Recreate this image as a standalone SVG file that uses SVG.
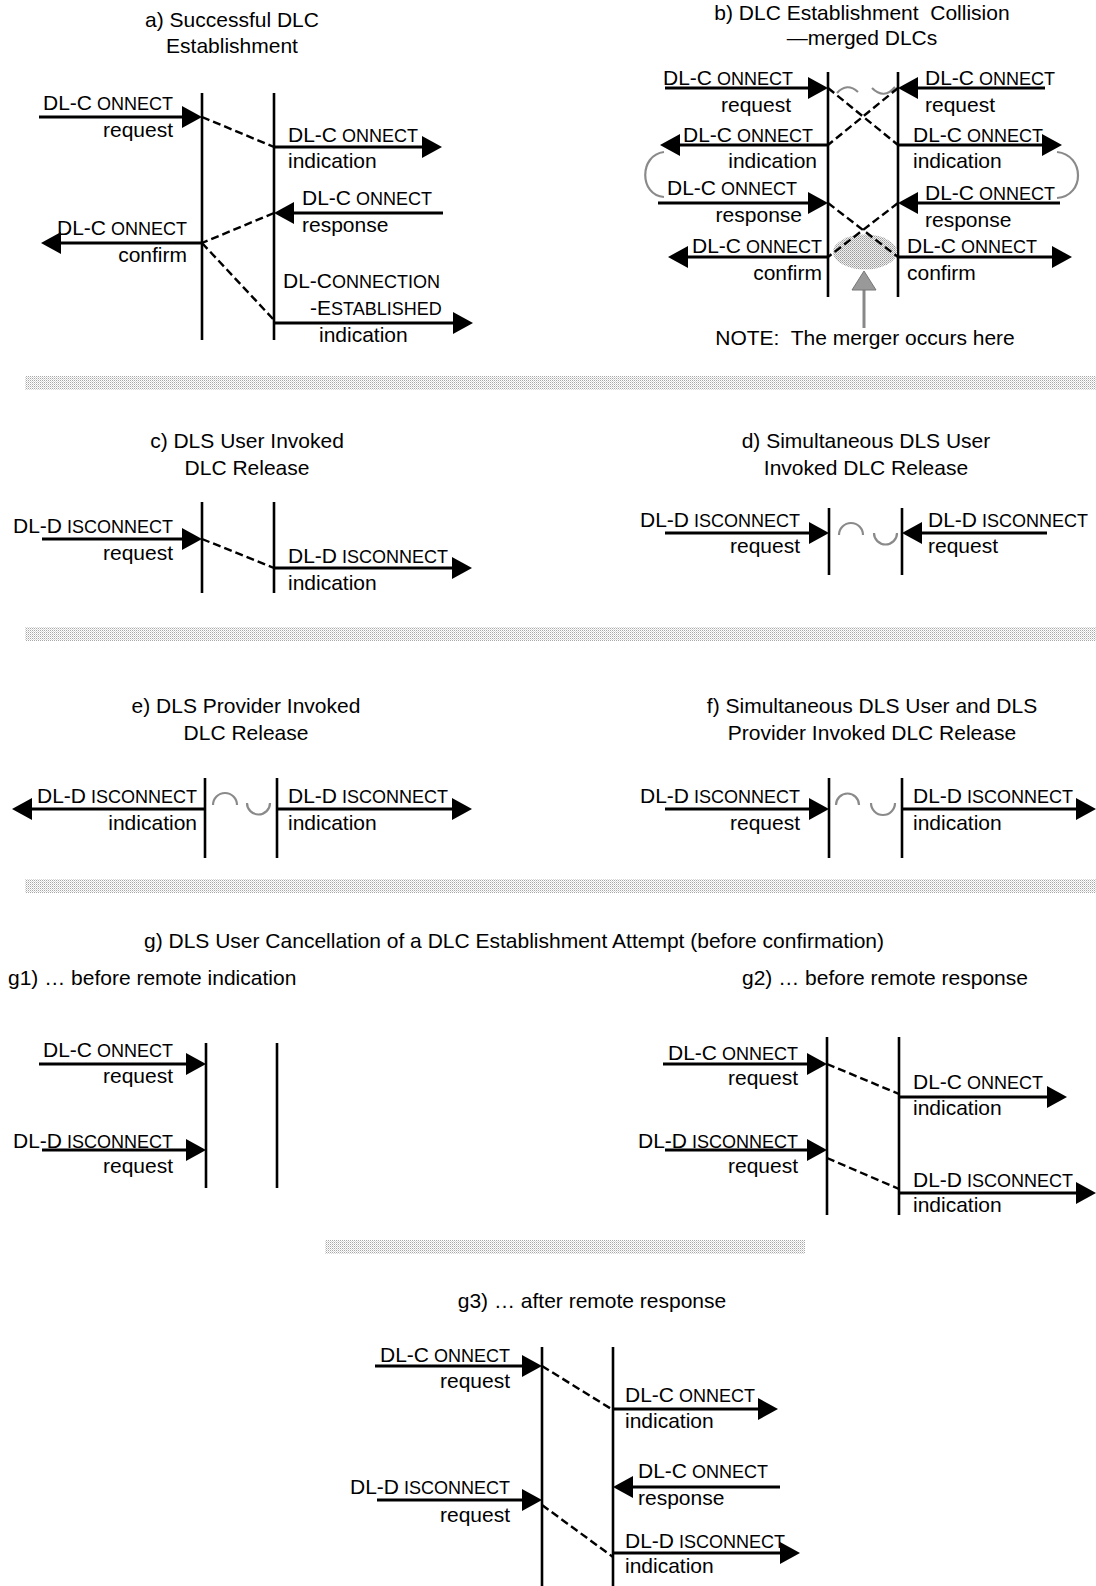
<svg xmlns="http://www.w3.org/2000/svg" width="1096" height="1586" viewBox="0 0 1096 1586">
<style>
text{font-family:"Liberation Sans",Arial,sans-serif;font-size:21px;fill:#000}
.sc{font-size:18px}
.m{text-anchor:middle}
.e{text-anchor:end}
.pre{white-space:pre}
.ll{stroke:#000;stroke-width:2.6;fill:none}
.ar{stroke:#000;stroke-width:3;fill:none;marker-end:url(#ah)}
.ds{stroke:#000;stroke-width:2.4;fill:none;stroke-dasharray:8 4}
.arc{stroke:#8a8a8a;stroke-width:2.2;fill:none}
</style>
<defs>
<marker id="ah" markerUnits="userSpaceOnUse" markerWidth="20" markerHeight="22" viewBox="0 0 20 22" refX="10" refY="11" orient="auto"><path d="M0,0 L20,11 L0,22 z" fill="#000"/></marker>
<pattern id="stip" width="2" height="2" patternUnits="userSpaceOnUse"><rect width="2" height="2" fill="#fff"/><rect width="1" height="1" fill="#a8a8a8"/><rect x="1" y="1" width="1" height="1" fill="#d8d8d8"/></pattern>
<pattern id="stip2" width="2" height="2" patternUnits="userSpaceOnUse"><rect width="2" height="2" fill="#f0f0f0"/><rect width="1" height="1" fill="#9a9a9a"/><rect x="1" y="1" width="1" height="1" fill="#b8b8b8"/></pattern>
</defs>
<rect width="1096" height="1586" fill="#fff"/>

<g id="separators">
<rect x="25" y="376" width="1071" height="14" fill="url(#stip)"/>
<rect x="25" y="627" width="1071" height="14" fill="url(#stip)"/>
<rect x="25" y="879" width="1071" height="14" fill="url(#stip)"/>
<rect x="325" y="1240" width="480" height="14" fill="url(#stip)"/>
</g>

<!-- Panel a -->
<g id="panel-a">
<text class="m" x="232" y="27">a) Successful DLC</text>
<text class="m" x="232" y="53">Establishment</text>
<g id="a-left"><line class="ll" x1="202" y1="93" x2="202" y2="340"/></g>
<g id="a-right"><line class="ll" x1="274" y1="93" x2="274" y2="340"/></g>
<text class="e" x="173" y="110">DL-C<tspan class="sc"> ONNECT</tspan></text>
<text class="e" x="173" y="137">request</text>
<text x="288" y="142">DL-C<tspan class="sc"> ONNECT</tspan></text>
<text x="288" y="168">indication</text>
<text x="302" y="205">DL-C<tspan class="sc"> ONNECT</tspan></text>
<text x="302" y="232">response</text>
<text class="e" x="187" y="235">DL-C<tspan class="sc"> ONNECT</tspan></text>
<text class="e" x="187" y="262">confirm</text>
<text x="283" y="288">DL-C<tspan class="sc">ONNECTION</tspan></text>
<text x="310" y="315">-E<tspan class="sc">STABLISHED</tspan></text>
<text x="319" y="342">indication</text>
</g>

<!-- Panel b -->
<g id="panel-b">
<text class="m pre" x="862" y="20">b) DLC Establishment  Collision</text>
<text class="m" x="862" y="45">—merged DLCs</text>
<g id="b-left"><line class="ll" x1="828" y1="72" x2="828" y2="297"/></g>
<g id="b-right"><line class="ll" x1="898" y1="72" x2="898" y2="297"/></g>
<ellipse cx="865" cy="252" rx="32" ry="17.5" fill="url(#stip2)"/>
<text class="e" x="793" y="85">DL-C<tspan class="sc"> ONNECT</tspan></text>
<text class="e" x="791" y="112">request</text>
<text x="925" y="85">DL-C<tspan class="sc"> ONNECT</tspan></text>
<text x="925" y="112">request</text>
<text class="e" x="813" y="142">DL-C<tspan class="sc"> ONNECT</tspan></text>
<text class="e" x="817" y="168">indication</text>
<text x="913" y="142">DL-C<tspan class="sc"> ONNECT</tspan></text>
<text x="913" y="168">indication</text>
<text x="667" y="195">DL-C<tspan class="sc"> ONNECT</tspan></text>
<text class="e" x="802" y="222">response</text>
<text x="925" y="200">DL-C<tspan class="sc"> ONNECT</tspan></text>
<text x="925" y="227">response</text>
<text class="e" x="822" y="253">DL-C<tspan class="sc"> ONNECT</tspan></text>
<text class="e" x="822" y="280">confirm</text>
<text x="907" y="253">DL-C<tspan class="sc"> ONNECT</tspan></text>
<text x="907" y="280">confirm</text>
<path class="arc" d="M837,93 Q847,82 858,92"/>
<path class="arc" d="M872,88 Q884,100 895,87"/>
<path class="arc" d="M664,152 C639,155 639,195 664,197"/>
<path class="arc" d="M1057,152 C1085,155 1085,196 1057,198"/>
<g id="b-note-arrow">
<line x1="864" y1="288" x2="864" y2="328" stroke="#888" stroke-width="3"/>
<path d="M852,290 L864,271 L876,290 z" fill="#999" stroke="#777" stroke-width="1"/>
</g>
<text class="m pre" x="865" y="345">NOTE:  The merger occurs here</text>
</g>

<!-- Panel c -->
<g id="panel-c">
<text class="m" x="247" y="448">c) DLS User Invoked</text>
<text class="m" x="247" y="475">DLC Release</text>
<g id="c-left"><line class="ll" x1="202" y1="502" x2="202" y2="593"/></g>
<g id="c-right"><line class="ll" x1="274" y1="502" x2="274" y2="593"/></g>
<text class="e" x="173" y="533">DL-D<tspan class="sc"> ISCONNECT</tspan></text>
<text class="e" x="173" y="560">request</text>
<text x="288" y="563">DL-D<tspan class="sc"> ISCONNECT</tspan></text>
<text x="288" y="590">indication</text>
</g>

<!-- Panel d -->
<g id="panel-d">
<text class="m" x="866" y="448">d) Simultaneous DLS User</text>
<text class="m" x="866" y="475">Invoked DLC Release</text>
<g id="d-left"><line class="ll" x1="829" y1="508" x2="829" y2="575"/></g>
<g id="d-right"><line class="ll" x1="902" y1="508" x2="902" y2="575"/></g>
<text class="e" x="800" y="527">DL-D<tspan class="sc"> ISCONNECT</tspan></text>
<text class="e" x="800" y="553">request</text>
<text x="928" y="527">DL-D<tspan class="sc"> ISCONNECT</tspan></text>
<text x="928" y="553">request</text>
<path class="arc" d="M839,535 A12,12 0 0 1 863,535"/>
<path class="arc" d="M874,533 A11.5,11.5 0 0 0 897,533"/>
</g>

<!-- Panel e -->
<g id="panel-e">
<text class="m" x="246" y="713">e) DLS Provider Invoked</text>
<text class="m" x="246" y="740">DLC Release</text>
<g id="e-left"><line class="ll" x1="205" y1="778" x2="205" y2="858"/></g>
<g id="e-right"><line class="ll" x1="277" y1="778" x2="277" y2="858"/></g>
<text class="e" x="197" y="803">DL-D<tspan class="sc"> ISCONNECT</tspan></text>
<text class="e" x="197" y="830">indication</text>
<text x="288" y="803">DL-D<tspan class="sc"> ISCONNECT</tspan></text>
<text x="288" y="830">indication</text>
<path class="arc" d="M213,805 A12,12 0 0 1 237,805"/>
<path class="arc" d="M247,803 A11.5,11.5 0 0 0 270,803"/>
</g>

<!-- Panel f -->
<g id="panel-f">
<text class="m" x="872" y="713">f) Simultaneous DLS User and DLS</text>
<text class="m" x="872" y="740">Provider Invoked DLC Release</text>
<g id="f-left"><line class="ll" x1="829" y1="778" x2="829" y2="858"/></g>
<g id="f-right"><line class="ll" x1="902" y1="778" x2="902" y2="858"/></g>
<text class="e" x="800" y="803">DL-D<tspan class="sc"> ISCONNECT</tspan></text>
<text class="e" x="800" y="830">request</text>
<text x="913" y="803">DL-D<tspan class="sc"> ISCONNECT</tspan></text>
<text x="913" y="830">indication</text>
<path class="arc" d="M836,805 A11.5,11.5 0 0 1 859,805"/>
<path class="arc" d="M871,803 A12,12 0 0 0 895,803"/>
</g>

<!-- Panel g -->
<g id="panel-g">
<text class="m" x="514" y="948">g) DLS User Cancellation of a DLC Establishment Attempt (before confirmation)</text>
<text x="8" y="985">g1) … before remote indication</text>
<text x="742" y="985">g2) … before remote response</text>
</g>

<g id="panel-g1">
<g id="g1-left"><line class="ll" x1="206" y1="1043" x2="206" y2="1188"/></g>
<g id="g1-right"><line class="ll" x1="277" y1="1043" x2="277" y2="1188"/></g>
<text class="e" x="173" y="1057">DL-C<tspan class="sc"> ONNECT</tspan></text>
<text class="e" x="173" y="1083">request</text>
<text class="e" x="173" y="1148">DL-D<tspan class="sc"> ISCONNECT</tspan></text>
<text class="e" x="173" y="1173">request</text>
</g>

<g id="panel-g2">
<g id="g2-left"><line class="ll" x1="827" y1="1037" x2="827" y2="1215"/></g>
<g id="g2-right"><line class="ll" x1="899" y1="1037" x2="899" y2="1215"/></g>
<text class="e" x="798" y="1060">DL-C<tspan class="sc"> ONNECT</tspan></text>
<text class="e" x="798" y="1085">request</text>
<text x="913" y="1089">DL-C<tspan class="sc"> ONNECT</tspan></text>
<text x="913" y="1115">indication</text>
<text class="e" x="798" y="1148">DL-D<tspan class="sc"> ISCONNECT</tspan></text>
<text class="e" x="798" y="1173">request</text>
<text x="913" y="1187">DL-D<tspan class="sc"> ISCONNECT</tspan></text>
<text x="913" y="1212">indication</text>
</g>

<g id="panel-g3">
<text class="m" x="592" y="1308">g3) … after remote response</text>
<g id="g3-left"><line class="ll" x1="542" y1="1347" x2="542" y2="1586"/></g>
<g id="g3-right"><line class="ll" x1="613" y1="1347" x2="613" y2="1586"/></g>
<text class="e" x="510" y="1362">DL-C<tspan class="sc"> ONNECT</tspan></text>
<text class="e" x="510" y="1388">request</text>
<text x="625" y="1402">DL-C<tspan class="sc"> ONNECT</tspan></text>
<text x="625" y="1428">indication</text>
<text x="638" y="1478">DL-C<tspan class="sc"> ONNECT</tspan></text>
<text x="638" y="1505">response</text>
<text class="e" x="510" y="1494">DL-D<tspan class="sc"> ISCONNECT</tspan></text>
<text class="e" x="510" y="1522">request</text>
<text x="625" y="1548">DL-D<tspan class="sc"> ISCONNECT</tspan></text>
<text x="625" y="1573">indication</text>
</g>

<g id="connectors">
<!-- a -->
<line class="ar" x1="39" y1="117" x2="192" y2="117"/>
<line class="ar" x1="274" y1="147" x2="432" y2="147"/>
<line class="ar" x1="443" y1="213" x2="284" y2="213"/>
<line class="ar" x1="202" y1="243" x2="51" y2="243"/>
<line class="ar" x1="274" y1="323" x2="463" y2="323"/>
<line class="ds" x1="202" y1="117" x2="274" y2="147"/>
<line class="ds" x1="274" y1="213" x2="202" y2="243"/>
<line class="ds" x1="202" y1="243" x2="274" y2="320"/>
<!-- b -->
<line class="ar" x1="665" y1="88" x2="818" y2="88"/>
<line class="ar" x1="1045" y1="88" x2="908" y2="88"/>
<line class="ar" x1="828" y1="145" x2="670" y2="145"/>
<line class="ar" x1="898" y1="145" x2="1052" y2="145"/>
<line class="ar" x1="658" y1="203" x2="818" y2="203"/>
<line class="ar" x1="1060" y1="203" x2="908" y2="203"/>
<line class="ar" x1="828" y1="257" x2="678" y2="257"/>
<line class="ar" x1="898" y1="257" x2="1062" y2="257"/>
<line class="ds" x1="828" y1="88" x2="898" y2="145"/>
<line class="ds" x1="898" y1="88" x2="828" y2="145"/>
<line class="ds" x1="828" y1="203" x2="898" y2="257"/>
<line class="ds" x1="898" y1="203" x2="828" y2="257"/>
<!-- c -->
<line class="ar" x1="42" y1="539" x2="192" y2="539"/>
<line class="ar" x1="274" y1="568" x2="462" y2="568"/>
<line class="ds" x1="202" y1="539" x2="274" y2="568"/>
<!-- d -->
<line class="ar" x1="665" y1="533" x2="819" y2="533"/>
<line class="ar" x1="1047" y1="533" x2="912" y2="533"/>
<!-- e -->
<line class="ar" x1="205" y1="809" x2="22" y2="809"/>
<line class="ar" x1="277" y1="809" x2="462" y2="809"/>
<!-- f -->
<line class="ar" x1="665" y1="809" x2="819" y2="809"/>
<line class="ar" x1="902" y1="809" x2="1086" y2="809"/>
<!-- g1 -->
<line class="ar" x1="39" y1="1064" x2="196" y2="1064"/>
<line class="ar" x1="42" y1="1150" x2="196" y2="1150"/>
<!-- g2 -->
<line class="ar" x1="663" y1="1064" x2="817" y2="1064"/>
<line class="ar" x1="899" y1="1097" x2="1057" y2="1097"/>
<line class="ar" x1="665" y1="1150" x2="817" y2="1150"/>
<line class="ar" x1="899" y1="1193" x2="1086" y2="1193"/>
<line class="ds" x1="827" y1="1064" x2="899" y2="1094"/>
<line class="ds" x1="827" y1="1158" x2="899" y2="1189"/>
<!-- g3 -->
<line class="ar" x1="375" y1="1366" x2="532" y2="1366"/>
<line class="ar" x1="613" y1="1409" x2="768" y2="1409"/>
<line class="ar" x1="780" y1="1487" x2="623" y2="1487"/>
<line class="ar" x1="377" y1="1500" x2="532" y2="1500"/>
<line class="ar" x1="613" y1="1553" x2="790" y2="1553"/>
<line class="ds" x1="542" y1="1366" x2="613" y2="1410"/>
<line class="ds" x1="542" y1="1505" x2="613" y2="1557"/>
</g>
</svg>
